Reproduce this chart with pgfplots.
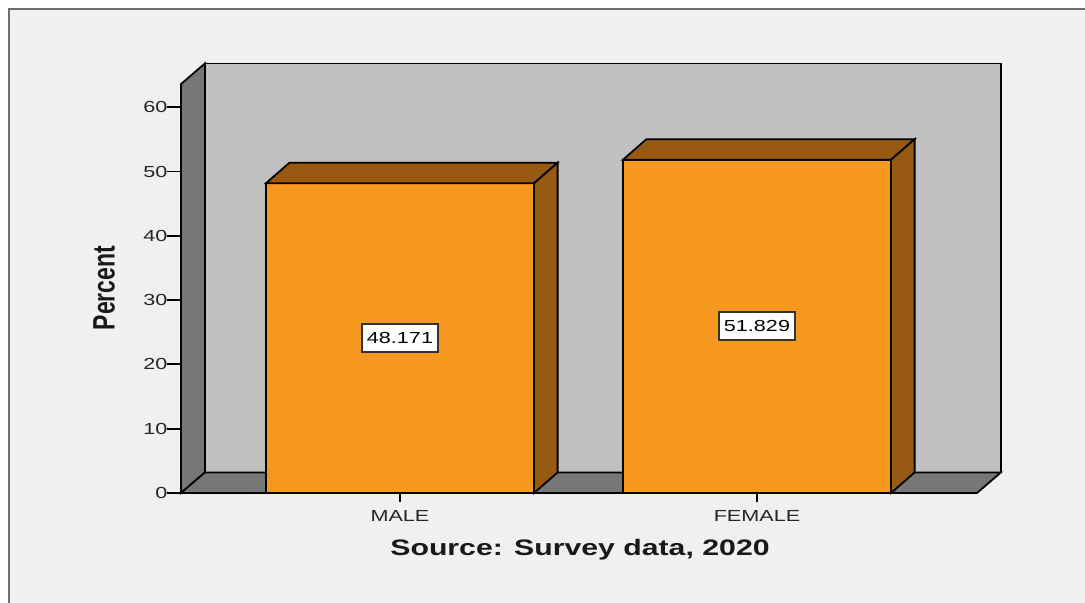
\documentclass[border=0pt]{standalone}
\usepackage{pgfplots}
\pgfplotsset{compat=1.18}
\usepackage{fontspec}
\setmainfont{Liberation Sans}[FakeStretch=1.35]
\newfontfamily\plainsans{Liberation Sans}
\definecolor{bgc}{HTML}{F0F0F0}
\definecolor{wallc}{HTML}{C0C0C0}
\definecolor{sidec}{HTML}{777777}
\definecolor{orangec}{HTML}{F7981F}
\definecolor{darkc}{HTML}{985A12}
\definecolor{framec}{HTML}{6E6E6E}
\begin{document}
\begin{tikzpicture}
\path[use as bounding box] (0pt,0pt) rectangle (542.5pt,-301.5pt);
\fill[white] (0pt,0pt) rectangle (542.5pt,-301.5pt);
\fill[bgc] (4.5pt,-4.5pt) rectangle (548pt,-310pt);
\draw[framec, line width=1pt] (4.5pt,-310pt) -- (4.5pt,-4.5pt) -- (548pt,-4.5pt);
\begin{axis}[
  at={(90.5pt,-246.5pt)}, anchor=south west,
  x=178.5pt, y=3.215pt,
  xmin=-0.6134, xmax=1.6162, ymin=0, ymax=63.6,
  axis x line*=bottom, axis y line*=left,
  axis line style={black, line width=0.9pt},
  tick align=outside,
  ytick={0,10,20,30,40,50,60},
  xtick={0,1}, xticklabels={MALE,FEMALE},
  xtick style={black, line width=0.9pt, /pgfplots/major tick length=4.5pt},
  ytick style={black, line width=0.9pt, /pgfplots/major tick length=7pt},
  /pgf/number format/assume math mode=true,
  tick label style={font=\fontsize{8}{9}\selectfont, text=black!85},
  yticklabel style={xshift=1pt},
  xticklabel style={yshift=-1pt},
  clip=false,
  axis on top,
]
% back wall
\addplot[fill=wallc, draw=black, line width=0.9pt, mark=none]
  coordinates {(-0.5464,3.2) (1.6832,3.2) (1.6832,66.8) (-0.5464,66.8)} -- cycle;
% left side wall
\addplot[fill=sidec, draw=black, line width=0.9pt, mark=none]
  coordinates {(-0.6134,0) (-0.5464,3.2) (-0.5464,66.8) (-0.6134,63.6)} -- cycle;
% floor
\addplot[fill=sidec, draw=black, line width=0.9pt, mark=none]
  coordinates {(-0.6134,0) (1.6162,0) (1.6832,3.2) (-0.5464,3.2)} -- cycle;
% bars (front faces)
\addplot[ybar, bar width=0.751, fill=orangec, draw=black, line width=0.9pt, mark=none]
  coordinates {(0,48.171) (1,51.829)};
% MALE top and side faces
\addplot[fill=darkc, draw=black, line width=0.9pt, mark=none]
  coordinates {(-0.3755,48.171) (-0.3095,51.371) (0.4415,51.371) (0.3755,48.171)} -- cycle;
\addplot[fill=darkc, draw=black, line width=0.9pt, mark=none]
  coordinates {(0.3755,48.171) (0.4415,51.371) (0.4415,3.2) (0.3755,0)} -- cycle;
% FEMALE top and side faces
\addplot[fill=darkc, draw=black, line width=0.9pt, mark=none]
  coordinates {(0.6245,51.829) (0.6905,55.029) (1.4415,55.029) (1.3755,51.829)} -- cycle;
\addplot[fill=darkc, draw=black, line width=0.9pt, mark=none]
  coordinates {(1.3755,51.829) (1.4415,55.029) (1.4415,3.2) (1.3755,0)} -- cycle;
% value labels at half height
\addplot[draw=none, mark=none, nodes near coords, point meta=explicit symbolic,
  nodes near coords align=center,
  every node near coord/.style={anchor=center, fill=white, draw=black!80, line width=0.9pt,
    inner xsep=2.6pt, inner ysep=0pt, minimum height=14pt,
    font=\fontsize{8}{9}\selectfont, text=black}]
  table[x=x, y expr=\thisrow{pct}/2, meta=pct] {
x pct
0 48.171
1 51.829
};
\end{axis}
\node[font=\fontsize{11.2}{13}\selectfont\bfseries, text=black!90] at (290pt,-275pt) {Source: Survey data, 2020};
\node[rotate=90, text=black!90] at (52pt,-144pt) {\scalebox{1}[1.35]{\plainsans\fontsize{11.5}{13}\selectfont\bfseries Percent}};
\end{tikzpicture}
\end{document}
